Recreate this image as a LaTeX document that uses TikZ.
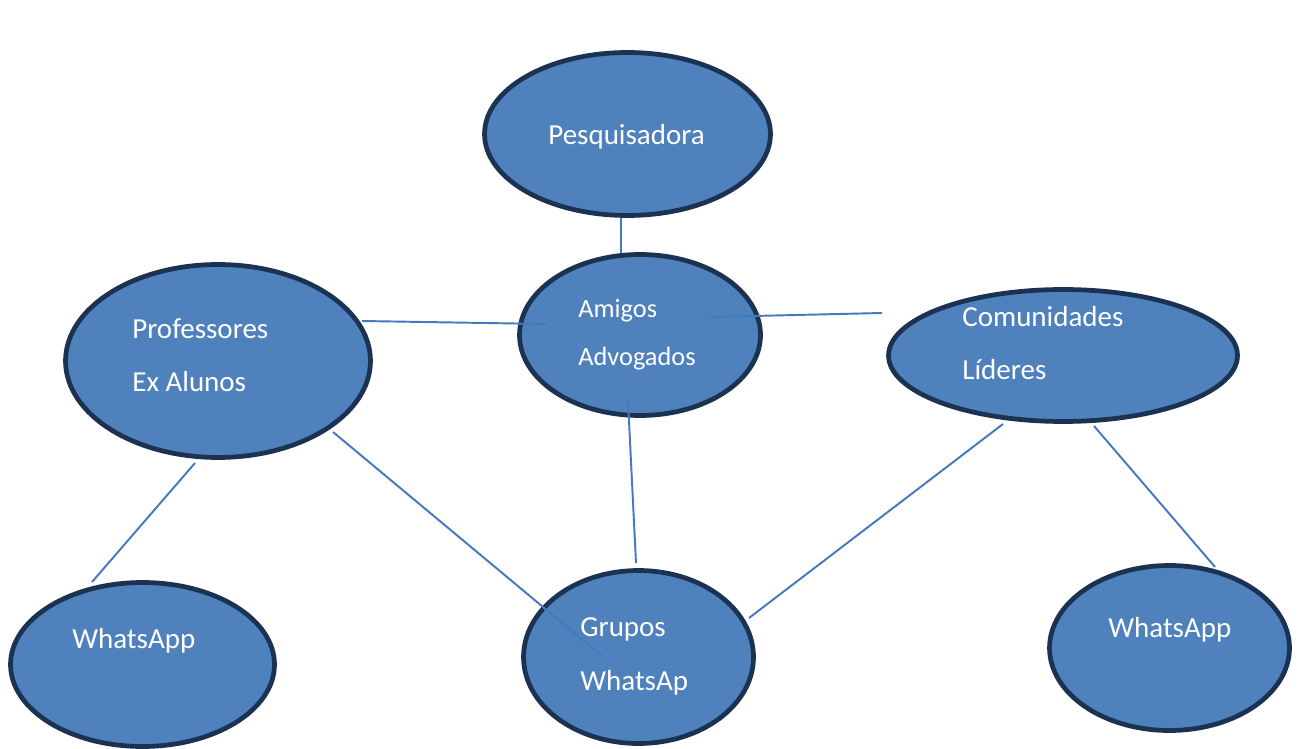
\documentclass[tikz,border=0pt]{standalone}
\usepackage{fontspec}
\setmainfont{Carlito}
\usetikzlibrary{shapes.geometric}
\definecolor{fillblue}{RGB}{79,129,189}
\definecolor{edgenavy}{RGB}{28,50,82}
\definecolor{linkblue}{RGB}{70,120,190}
\tikzset{
  bubble/.style={ellipse, draw=edgenavy, line width=2.7pt, fill=fillblue, inner sep=0pt},
  lbl/.style={anchor=base west, inner sep=0pt, text=white, font=\fontsize{16.5}{19}\selectfont},
  lblsmall/.style={lbl, font=\fontsize{15}{18}\selectfont},
  link/.style={draw=linkblue, line width=1.1pt}
}
\begin{document}
\begin{tikzpicture}[x=0.02cm, y=-0.02cm]
\path[use as bounding box, fill=white] (0,0) rectangle (1300,749);

% ellipses
\node[bubble, minimum width=5.72cm, minimum height=3.26cm] (pesq) at (627.5,134) {};
\node[bubble, minimum width=4.82cm, minimum height=3.22cm] (amigos) at (640,335) {};
\node[bubble, minimum width=6.10cm, minimum height=3.86cm] (prof) at (218,361) {};
\node[bubble, minimum width=6.98cm, minimum height=2.64cm] (comun) at (1063,355.5) {};
\node[bubble, minimum width=5.28cm, minimum height=3.28cm] (wl) at (142.5,664.5) {};
\node[bubble, minimum width=4.60cm, minimum height=3.46cm] (grupos) at (638.5,657) {};
\node[bubble, minimum width=4.80cm, minimum height=3.30cm] (wr) at (1169.5,648) {};

% connector end points
\coordinate (p1) at (621,218);  \coordinate (a1) at (621,253);
\coordinate (pr1) at (362,321); \coordinate (a2) at (547,324);
\coordinate (a3) at (710,317);  \coordinate (c1) at (882,313);
\coordinate (a4) at (628,401);  \coordinate (g1) at (636,563);
\coordinate (pr2) at (333,432); \coordinate (g2) at (603,657);
\coordinate (pr3) at (195,463); \coordinate (w1) at (92,582);
\coordinate (c2) at (1003,424); \coordinate (g3) at (749,618);
\coordinate (c3) at (1094,426); \coordinate (w2) at (1215,567);

% connectors
\draw[link] (p1) -- (a1);
\draw[link] (pr1) -- (a2);
\draw[link] (a3) -- (c1);
\draw[link] (a4) -- (g1);
\draw[link] (pr2) -- (g2);
\draw[link] (pr3) -- (w1);
\draw[link] (c2) -- (g3);
\draw[link] (c3) -- (w2);

% labels
\node[lbl] (tpesq) at (548,145) {Pesquisadora};
\node[lblsmall] (tam1) at (578,318) {Amigos};
\node[lblsmall] (tam2) at (578,366) {Advogados};
\node[lbl] (tpr1) at (132,339) {Professores};
\node[lbl] (tpr2) at (132,392) {Ex Alunos};
\node[lbl] (tco1) at (962,327) {Comunidades};
\node[lbl] (tco2) at (962,379) {Líderes};
\node[lbl] (twl) at (72,648) {WhatsApp};
\node[lbl] (tgr1) at (580,636) {Grupos};
\node[lbl] (tgr2) at (580,690) {WhatsAp};
\node[lbl] (twr) at (1108,637) {WhatsApp};
\end{tikzpicture}
\end{document}
